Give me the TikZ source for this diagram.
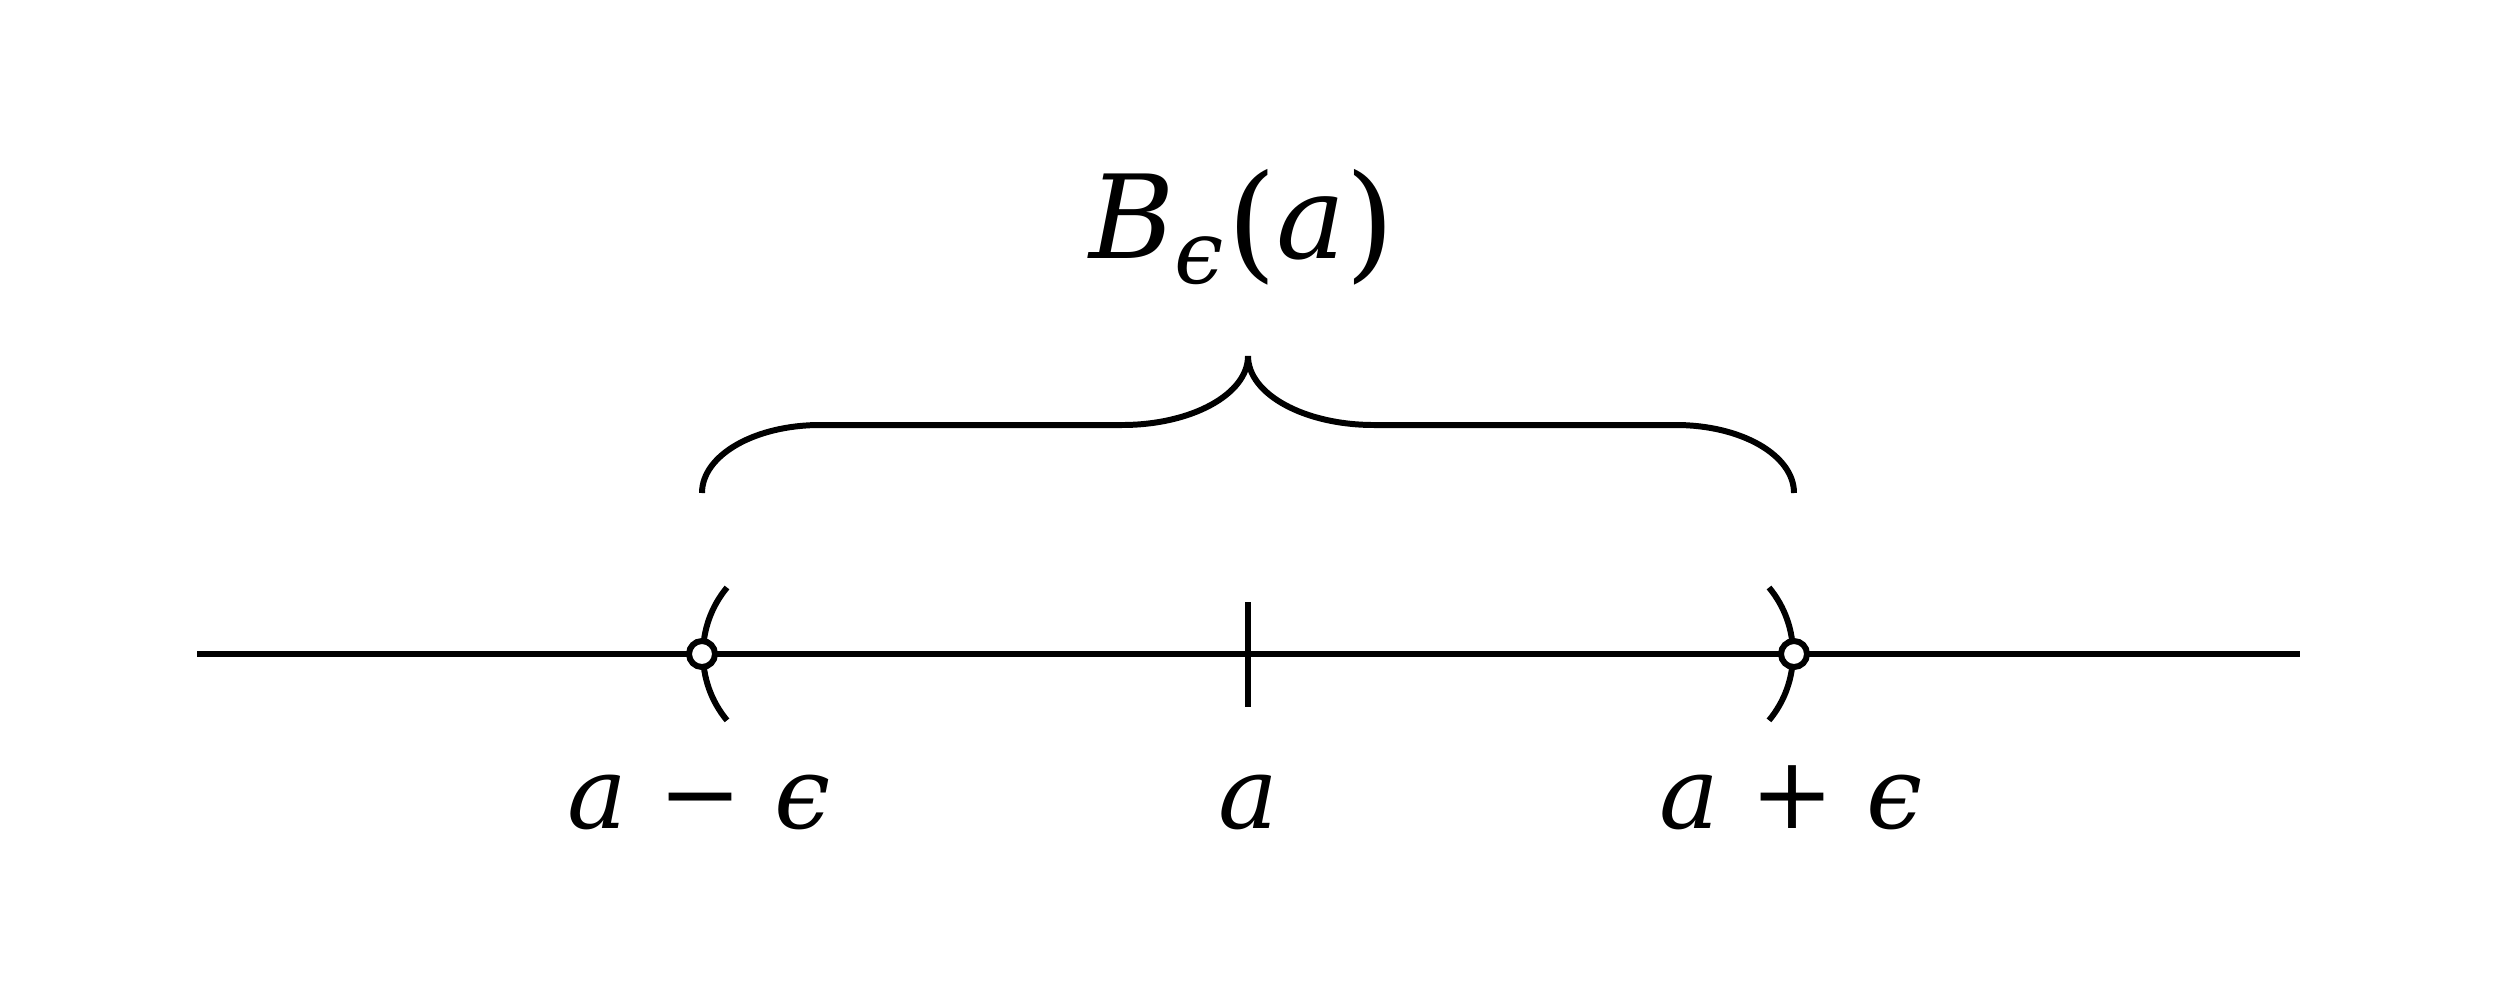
\documentclass[tikz,border=0pt]{standalone}
\usepackage{amsmath}
\usepackage{amssymb}
\usepackage{xcolor}
\usepackage{fontspec}
\usepackage{tikz}
\usetikzlibrary{calc}
\newfontfamily\lblfont{DejaVu Serif}
\newcommand{\bigparen}[1]{\raisebox{-0.07cm}{\upshape\fontsize{36}{40}\selectfont #1}}

\begin{document}
\begin{tikzpicture}[x=0.01cm,y=-0.01cm,line width=1.7pt,
    lbl/.style={anchor=base,inner sep=0pt,font=\lblfont\fontsize{28.5}{34}\selectfont},
    hole/.style={circle,draw,fill=white,inner sep=0pt,minimum size=0.26cm}]
            \useasboundingbox (0,0) rectangle (2496,987);
            % number line
            \coordinate (start) at (197,654);
            \coordinate (stop) at (2300,654);
            \coordinate (mid) at (1248,654);
            \draw (start) -- (stop);
            \draw ($(mid)+(0,-52)$) -- ($(mid)+(0,53)$);
            % brackets of the interval
            \coordinate (lo) at (702,654);
            \coordinate (hi) at (1794,654);
            \draw ($(lo)+(25,-66.5)$) arc[start angle=219.7, end angle=140.3, radius=104];
            \draw ($(hi)+(-25,-66.5)$) arc[start angle=-39.7, end angle=39.7, radius=104];
            \node[hole] (loHole) at (lo) {};
            \node[hole] (hiHole) at (hi) {};
            % brace
            \coordinate (braceL) at (702,493);
            \coordinate (braceR) at (1794,493);
            \coordinate (braceTip) at (1248,356);
            \draw (braceL) .. controls +(0,-38) and +(-65,0) .. (820,425) -- (1122,425)
                .. controls +(70,0) and +(0,38) .. (braceTip)
                .. controls +(0,38) and +(-70,0) .. (1374,425) -- (1676,425)
                .. controls +(65,0) and +(0,-38) .. (braceR);
            % labels
            \node[lbl,font=\lblfont\fontsize{33}{40}\selectfont] (ball) at (1242,258)
                {\itshape B\raisebox{-0.22em}{\fontsize{25}{30}\selectfont ϵ}\kern1pt\bigparen{(}\itshape a\bigparen{)}};
            \node[lbl] (loLabel) at (699,828) {\itshape a \upshape − \itshape ϵ};
            \node[lbl] (midLabel) at (1248,828) {\itshape a};
            \node[lbl] (hiLabel) at (1791,828) {\itshape a \upshape + \itshape ϵ};
        \end{tikzpicture}
\end{document}
